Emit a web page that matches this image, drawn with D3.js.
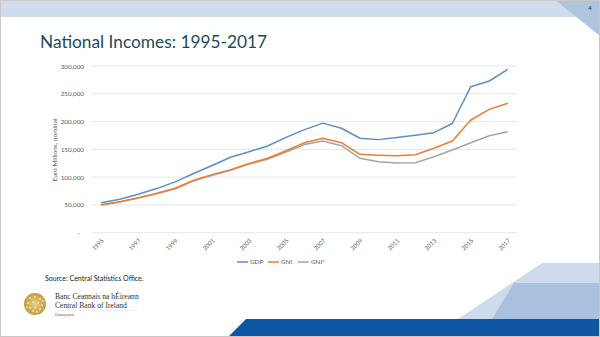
<!DOCTYPE html>
<html>
<head>
<meta charset="utf-8">
<script src="https://cdn.jsdelivr.net/npm/d3@7"></script>
<style>
  html, body { margin: 0; padding: 0; background: #fff; }
  svg { display: block; }
</style>
</head>
<body>
<svg id="slide" width="600" height="337"></svg>
<script>
// National income series, € millions, current prices
const years = d3.range(1995, 2018);
const gdp = [54000, 60200, 69200, 79400, 91500, 106500, 121000, 135800, 145800, 156000, 171500, 185500,
             197200, 188000, 170000, 167500, 171500, 175500, 180000, 196500, 262800, 273000, 294000];
const gni = [50400, 55800, 63000, 70900, 80000, 94500, 104500, 113500, 124500, 133900, 147600, 162000,
             170000, 162000, 141100, 139500, 138600, 140400, 151900, 165000, 202800, 222000, 233000];
const gniStar = [50000, 55200, 62200, 70000, 79000, 93200, 103300, 112500, 123400, 132300, 145200, 158800,
                 165000, 156600, 133900, 127800, 125500, 125800, 136800, 148800, 162000, 174600, 181800];
const seriesNames = ["GDP", "GNI", "GNI*"];
const seriesColors = ["#5b8ec8", "#ed7d31", "#a5a5a5"];
const yTicks = [0, 50000, 100000, 150000, 200000, 250000, 300000];
const xTickYears = years.filter(y => (y - 1995) % 2 === 0);

const svg = d3.select("#slide");
const font = "Lato, 'Open Sans', sans-serif";

// ---- slide decoration ----
svg.append("rect").attr("x", 0).attr("y", 0).attr("width", 600).attr("height", 337).attr("fill", "#fff");
// top band
svg.append("rect").attr("x", 0).attr("y", 0).attr("width", 600).attr("height", 17).attr("fill", "#cfdcec");
svg.append("path").attr("d", "M555,0 L600,0 L600,36 Z").attr("fill", "#aec4df");
svg.append("text").attr("x", 590).attr("y", 10).attr("font-family", font).attr("font-size", 6.5)
  .attr("fill", "#1f3b57").attr("text-anchor", "middle").text("4");

// bottom-right shapes
svg.append("path").attr("d", "M458,319 L542,263 L600,263 L600,319 Z").attr("fill", "#cddbec");
svg.append("path").attr("d", "M492,319 L514,283 L600,283 L600,319 Z").attr("fill", "#a9c1de");
svg.append("path").attr("d", "M228,337 L246,319 L600,319 L600,337 Z").attr("fill", "#0f56a1");

// title
svg.append("text").attr("x", 40).attr("y", 48).attr("font-family", font).attr("font-size", 17.3)
  .attr("fill", "#1d4b5c").text("National Incomes: 1995-2017");

// ---- chart ----
const x = d3.scalePoint().domain(years).range([92, 517]).padding(0.5);
const y = d3.scaleLinear().domain([0, 300000]).range([232.7, 66]);

const g = svg.append("g");

// gridlines
g.selectAll("line.grid").data(yTicks).join("line")
  .attr("x1", 92).attr("x2", 517)
  .attr("y1", d => y(d)).attr("y2", d => y(d))
  .attr("stroke", "#e0e0e0").attr("stroke-width", 0.8);

// y tick labels
const yAxis = d3.axisLeft(y).tickValues(yTicks).tickSize(0).tickPadding(0)
  .tickFormat(d => d === 0 ? "-" : d3.format(",")(d));
const ya = g.append("g").attr("transform", "translate(84,0)").call(yAxis);
ya.select(".domain").remove();
ya.selectAll("text").attr("font-family", font).attr("font-size", 6.3).attr("fill", "#595959")
  .attr("dy", "0.32em")
  .attr("dx", d => d === 0 ? -4 : 0);

// y axis title
svg.append("text")
  .attr("transform", "translate(57,150) rotate(-90)")
  .attr("text-anchor", "middle").attr("font-family", font).attr("font-size", 6.5)
  .attr("fill", "#595959").text("Euro Millions, nominal");

// x tick labels
g.selectAll("text.xl").data(xTickYears).join("text")
  .attr("class", "xl")
  .attr("transform", d => `translate(${x(d) + 3},${241}) rotate(-45)`)
  .attr("text-anchor", "end").attr("font-family", font).attr("font-size", 6)
  .attr("fill", "#595959").text(d => d);

// series lines
const series = [gdp, gni, gniStar];
const line = d3.line().x((d, i) => x(years[i])).y(d => y(d));
[2, 1, 0].forEach(k => {
  g.append("path").datum(series[k])
    .attr("fill", "none").attr("stroke", seriesColors[k]).attr("stroke-width", 1.5)
    .attr("stroke-linejoin", "round").attr("d", line);
});

// legend
const legendX = [237, 268, 298];
const lg = svg.append("g");
seriesNames.forEach((name, k) => {
  lg.append("line").attr("x1", legendX[k]).attr("x2", legendX[k] + 11)
    .attr("y1", 262).attr("y2", 262).attr("stroke", seriesColors[k]).attr("stroke-width", 1.5);
  lg.append("text").attr("x", legendX[k] + 13).attr("y", 264.3)
    .attr("font-family", font).attr("font-size", 6.3).attr("fill", "#595959").text(name);
});

// source note
svg.append("text").attr("x", 45).attr("y", 281).attr("font-family", font).attr("font-size", 7)
  .attr("fill", "#222").text("Source: Central Statistics Office.");

// ---- logo ----
const defs = svg.append("defs");
const rg = defs.append("radialGradient").attr("id", "gold");
rg.append("stop").attr("offset", "0%").attr("stop-color", "#e8cf8a");
rg.append("stop").attr("offset", "100%").attr("stop-color", "#c49a3e");
svg.append("circle").attr("cx", 35).attr("cy", 304).attr("r", 11).attr("fill", "url(#gold)");
// ornamental speckles on the seal
const speck = [[-5,-6],[0,-7],[5,-5],[-7,-1],[-2,-2],[3,-1],[7,1],[-5,4],[0,3],[5,5],[-2,7],[2,8],[-8,3],[8,-3]];
svg.selectAll("circle.sp").data(speck).join("circle")
  .attr("cx", d => 35 + d[0]).attr("cy", d => 304 + d[1]).attr("r", 1.1)
  .attr("fill", "#f7ecc8").attr("opacity", 0.8);

const serif = "'Liberation Serif', 'DejaVu Serif', serif";
svg.append("text").attr("x", 55).attr("y", 298.5).attr("font-family", serif).attr("font-size", 7.6)
  .attr("fill", "#333").text("Banc Ceannais na hÉireann");
svg.append("text").attr("x", 55).attr("y", 307.5).attr("font-family", serif).attr("font-size", 7.6)
  .attr("fill", "#333").text("Central Bank of Ireland");
svg.append("line").attr("x1", 55).attr("x2", 138).attr("y1", 310.5).attr("y2", 310.5)
  .attr("stroke", "#ddd").attr("stroke-width", 0.5);
svg.append("text").attr("x", 55).attr("y", 315.5).attr("font-family", serif).attr("font-size", 4)
  .attr("fill", "#555").text("Eurosystem");

// slide border
svg.append("rect").attr("x", 0.5).attr("y", 0.5).attr("width", 599).attr("height", 336)
  .attr("fill", "none").attr("stroke", "#c8c8c8").attr("stroke-width", 1);
</script>
</body>
</html>
